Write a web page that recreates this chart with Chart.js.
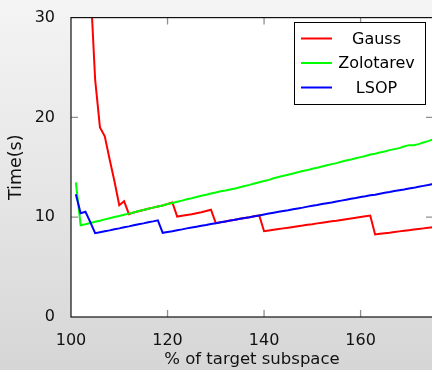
<!DOCTYPE html>
<html><head><meta charset="utf-8">
<script src="https://cdn.jsdelivr.net/npm/chart.js@4.4.1/dist/chart.umd.min.js"></script>
<style>
html,body{margin:0;padding:0;width:432px;height:370px;overflow:hidden;background:linear-gradient(180deg,#f4f4f4 0%,#e6e6e6 50%,#d6d6d6 100%);}
canvas{display:block;}
</style></head><body>
<canvas id="c" width="434" height="370"></canvas>
<script>
const xValues = [101,102,103,104,105,106,107,108,109,110,111,112,113,114,115,116,117,118,119,120,
  121,122,123,124,125,126,127,128,129,130,131,132,133,134,135,136,137,138,139,140,
  141,142,143,144,145,146,147,148,149,150,151,152,153,154,155,156,157,158,159,160,
  161,162,163,164,165,166,167,168,169,170,171,172,173,174,175];
const gauss = [null,null,null,33.5,23.8,19.0,18.1,15.8,13.6,11.2,11.6,10.3,10.48,10.6,10.72,10.85,10.96,11.08,11.18,11.32,
  11.48,10.07,10.15,10.22,10.3,10.4,10.5,10.62,10.75,9.40,9.5,9.58,9.66,9.75,9.84,9.92,10.0,10.1,10.18,8.60,
  8.67,8.74,8.82,8.88,8.95,9.02,9.1,9.16,9.24,9.3,9.38,9.45,9.52,9.6,9.65,9.72,9.8,9.88,9.95,10.02,
  10.1,10.17,8.27,8.33,8.4,8.45,8.52,8.58,8.64,8.7,8.76,8.82,8.88,8.94,9.0];
const zolotarev = [13.5,9.2,9.3,9.42,9.55,9.65,9.78,9.9,10.02,10.13,10.25,10.36,10.48,10.62,10.72,10.85,10.96,11.08,11.18,11.32,
  11.43,11.55,11.66,11.8,11.9,12.02,12.15,12.25,12.38,12.48,12.6,12.68,12.78,12.88,13.0,13.12,13.24,13.38,13.5,13.62,
  13.74,13.9,14.03,14.15,14.26,14.38,14.5,14.62,14.72,14.86,14.96,15.08,15.2,15.32,15.42,15.55,15.68,15.78,15.9,16.02,
  16.14,16.28,16.35,16.48,16.58,16.72,16.82,16.92,17.08,17.22,17.22,17.32,17.48,17.62,17.8];
const lsop = [12.3,10.4,10.55,9.5,8.4,8.5,8.6,8.68,8.8,8.88,9.0,9.08,9.2,9.3,9.38,9.5,9.58,9.68,8.44,8.52,
  8.6,8.7,8.78,8.88,8.96,9.05,9.14,9.22,9.32,9.40,9.5,9.58,9.66,9.75,9.84,9.92,10.0,10.1,10.18,10.28,
  10.36,10.45,10.54,10.62,10.7,10.8,10.88,10.96,11.06,11.14,11.22,11.32,11.4,11.48,11.58,11.66,11.74,11.84,11.92,12.02,
  12.1,12.2,12.26,12.36,12.44,12.52,12.62,12.7,12.78,12.88,12.94,13.05,13.14,13.22,13.33];
const xTickValues = [100,120,140,160];
const yTickValues = [0,10,20,30];
const seriesNames = ['Gauss','Zolotarev','LSOP'];
const seriesColors = ['#ff0000','#00ff00','#0000ff'];
const seriesValues = [gauss, zolotarev, lsop];

const FONT = "'DejaVu Sans', sans-serif";

function drawInnerTicks(chart) {
  const ctx = chart.ctx;
  const a = chart.chartArea;
  const sx = chart.scales.x, sy = chart.scales.y;
  ctx.save();
  ctx.strokeStyle = '#909090';
  ctx.lineWidth = 1.3;
  const L = 7;
  for (let k = 0; k < xTickValues.length; k++) {
    const v = xTickValues[k];
    if (v <= sx.min || v >= sx.max) continue;
    const px = sx.getPixelForValue(v);
    ctx.beginPath();
    ctx.moveTo(px, a.bottom); ctx.lineTo(px, a.bottom - L);
    ctx.moveTo(px, a.top); ctx.lineTo(px, a.top + L);
    ctx.stroke();
  }
  for (let k = 0; k < yTickValues.length; k++) {
    const v = yTickValues[k];
    if (v <= sy.min || v >= sy.max) continue;
    const py = sy.getPixelForValue(v);
    ctx.beginPath();
    ctx.moveTo(a.left, py); ctx.lineTo(a.left + L, py);
    ctx.moveTo(a.right, py); ctx.lineTo(a.right - L, py);
    ctx.stroke();
  }
  ctx.restore();
}

const framePlugin = {
  id: 'frame',
  beforeDraw(chart) {
    const {ctx, chartArea: a} = chart;
    ctx.save();
    ctx.fillStyle = '#ffffff';
    ctx.fillRect(a.left, a.top, a.right - a.left, a.bottom - a.top);
    ctx.restore();
  },
  afterDraw(chart) {
    const {ctx, chartArea: a} = chart;
    drawInnerTicks(chart);
    ctx.save();
    ctx.strokeStyle = '#111111';
    ctx.lineWidth = 1.2;
    ctx.strokeRect(a.left, a.top, a.right - a.left, a.bottom - a.top);
    // legend
    const bx = 294.5, by = 22.5, bw = 131, bh = 82;
    ctx.fillStyle = '#ffffff';
    ctx.fillRect(bx, by, bw, bh);
    ctx.lineWidth = 1;
    ctx.strokeStyle = '#000000';
    ctx.strokeRect(bx, by, bw, bh);
    ctx.font = '16px ' + FONT;
    ctx.textAlign = 'center';
    ctx.textBaseline = 'middle';
    seriesNames.forEach((name, i) => {
      const y = by + 16 + i * 24.5;
      ctx.strokeStyle = seriesColors[i];
      ctx.lineWidth = 2;
      ctx.beginPath();
      ctx.moveTo(bx + 6.5, y); ctx.lineTo(bx + 37.5, y);
      ctx.stroke();
      ctx.fillStyle = '#000000';
      ctx.fillText(name, bx + 82, y + 1);
    });
    ctx.restore();
  }
};

new Chart(document.getElementById('c'), {
  type: 'line',
  data: {
    labels: xValues,
    datasets: seriesNames.map((name, i) => ({
      label: name,
      data: xValues.map((x, j) => ({x: x, y: seriesValues[i][j]})),
      borderColor: seriesColors[i],
      backgroundColor: seriesColors[i],
      borderWidth: 2,
      pointRadius: 0,
      tension: 0,
      fill: false,
      spanGaps: false,
      order: 3 - i
    }))
  },
  options: {
    responsive: false,
    animation: false,
    devicePixelRatio: 1,
    layout: {padding: {left: 0, top: 16, right: 1, bottom: 0}},
    plugins: {legend: {display: false}, tooltip: {enabled: false}},
    scales: {
      x: {
        type: 'linear', min: 100, max: 175,
        grid: {display: false}, border: {display: false},
        afterBuildTicks: s => { s.ticks = xTickValues.map(v => ({value: v})); },
        afterFit: s => { s.height = 53; },
        ticks: {color: '#111', font: {family: FONT, size: 16}, padding: 6, maxRotation: 0, autoSkip: false},
        title: {display: true, text: '% of target subspace', color: '#111', font: {family: FONT, size: 16.5}, padding: {top: 0, bottom: 0}}
      },
      y: {
        type: 'linear', min: 0, max: 30,
        grid: {display: false}, border: {display: false},
        afterBuildTicks: s => { s.ticks = yTickValues.map(v => ({value: v})); },
        afterFit: s => { s.width = 71; },
        ticks: {color: '#111', font: {family: FONT, size: 16}, padding: 8},
        title: {display: true, text: 'Time(s)', color: '#111', font: {family: FONT, size: 17.5}, padding: {top: 6, bottom: 0}}
      }
    }
  },
  plugins: [framePlugin]
});
</script>
</body></html>
